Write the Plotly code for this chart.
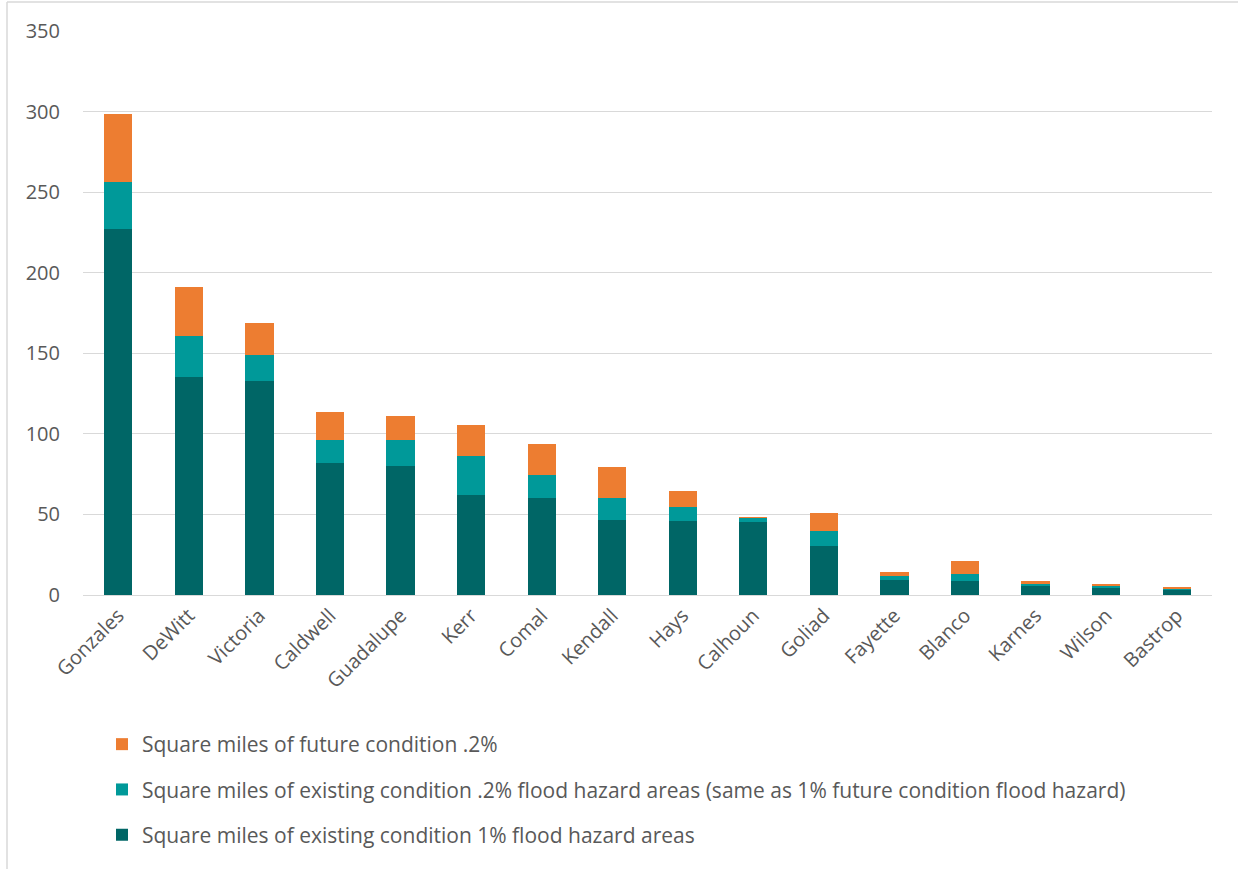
import plotly.graph_objects as go

counties = ["Gonzales", "DeWitt", "Victoria", "Caldwell", "Guadalupe", "Kerr", "Comal",
            "Kendall", "Hays", "Calhoun", "Goliad", "Fayette", "Blanco", "Karnes", "Wilson", "Bastrop"]
existing_1pct = [227, 135, 133, 82, 80, 62, 60.5, 46.5, 46, 45.3, 30.5, 9.3, 9, 5.8, 4.3, 3.3]
existing_02pct = [29, 26, 16, 14, 16.5, 24, 14, 14, 8.5, 2.7, 9.5, 2.5, 4.2, 1.2, 1.3, 0.5]
future_02pct = [42.5, 30, 19.5, 17.5, 14.5, 19.5, 19, 19, 10, 0.4, 11, 2.3, 7.7, 1.5, 1.2, 1.3]

names = [
    "Square miles of existing condition 1% flood hazard areas",
    "Square miles of existing condition .2% flood hazard areas (same as 1% future condition flood hazard)",
    "Square miles of future condition .2%",
]
colors = ["#006666", "#009999", "#ED7D31"]
series = [existing_1pct, existing_02pct, future_02pct]

fig = go.Figure()
for i, (nm, col, vals) in enumerate(zip(names, colors, series)):
    fig.add_trace(go.Bar(x=counties, y=vals, name=nm, marker=dict(color=col, line=dict(width=0)),
                         legendgroup=str(i), legendrank=3 - i))

W, H = 1238, 869
L, R, T, B = 83, 26, 31, 274
pw, ph = W - L - R, H - T - B

def px(x):
    return (x - L) / pw

def py(y):
    return (H - B - y) / ph

font = "Open Sans, Calibri, sans-serif"
fs = 20
fig.update_layout(
    width=W, height=H,
    margin=dict(l=L, r=R, t=T, b=B),
    barmode="stack", bargap=0.6,
    plot_bgcolor="white", paper_bgcolor="white",
    font=dict(family=font, size=fs, color="#595959"),
    xaxis=dict(tickangle=-45, showgrid=False, showline=True, linecolor="#d9d9d9", linewidth=1,
               ticks="", tickfont=dict(size=fs, color="#595959")),
    yaxis=dict(range=[0, 350], dtick=50, showgrid=True, gridcolor="#d9d9d9", gridwidth=1,
               zeroline=False, ticks="", ticklabelstandoff=22, tickfont=dict(size=fs, color="#595959")),
    legend=dict(orientation="v", traceorder="grouped", tracegroupgap=15,
                x=px(102), y=py(724), xanchor="left", yanchor="top",
                font=dict(size=21, color="#595959"), itemwidth=30),
    showlegend=True,
)

fig.add_shape(type="line", xref="paper", yref="paper", x0=px(7), x1=px(W), y0=py(2), y1=py(2),
              line=dict(color="#d9d9d9", width=1.5))
fig.add_shape(type="line", xref="paper", yref="paper", x0=px(7), x1=px(7), y0=py(2), y1=py(H),
              line=dict(color="#d9d9d9", width=1.5))

fig.write_html("out.html")
